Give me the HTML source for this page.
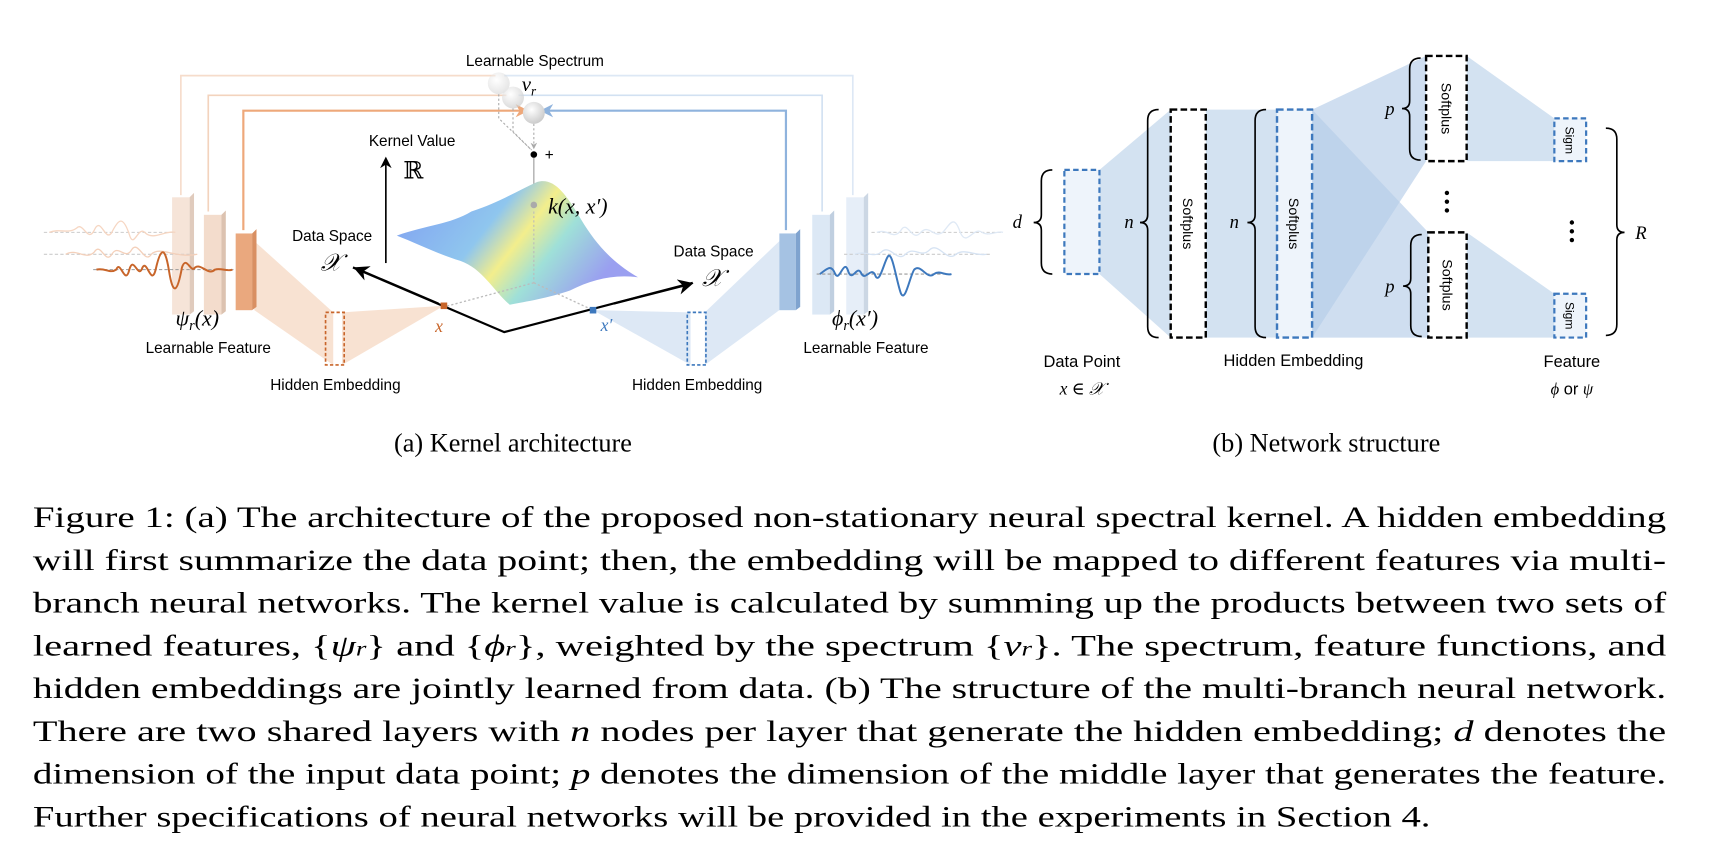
<!DOCTYPE html>
<html><head><meta charset="utf-8">
<style>
html,body{margin:0;padding:0;background:#fff;}
svg{display:block;}
.sans{font-family:"Liberation Sans","DejaVu Sans",sans-serif;}
.serif{font-family:"Liberation Serif","DejaVu Serif",serif;}
</style></head>
<body>
<svg width="1710" height="858" viewBox="0 0 1560 782.8" preserveAspectRatio="none" xmlns="http://www.w3.org/2000/svg">
<defs>
<linearGradient id="surf" x1="0" y1="0" x2="1" y2="0.4">
<stop offset="0" stop-color="#7f9cf2"/><stop offset="0.45" stop-color="#8fc6ee"/><stop offset="0.6" stop-color="#f3ee8c"/><stop offset="0.75" stop-color="#9fe0d8"/><stop offset="1" stop-color="#9a9ff0"/>
</linearGradient>
<radialGradient id="ball" cx="0.4" cy="0.35" r="0.7"><stop offset="0" stop-color="#fff"/><stop offset="1" stop-color="#c8c8c8"/></radialGradient>
<marker id="ah" viewBox="0 0 10 10" refX="8" refY="5" markerWidth="7" markerHeight="7" orient="auto"><path d="M0,0 L10,5 L0,10 L3,5z" fill="#000"/></marker>
<marker id="ahg" viewBox="0 0 10 10" refX="8" refY="5" markerWidth="6" markerHeight="6" orient="auto"><path d="M0,0 L10,5 L0,10 L3,5z" fill="#aaa"/></marker>
<marker id="aho" viewBox="0 0 10 10" refX="8" refY="5" markerWidth="6" markerHeight="6" orient="auto"><path d="M0,0 L10,5 L0,10 L3,5z" fill="#eea87a"/></marker>
<marker id="ahb" viewBox="0 0 10 10" refX="8" refY="5" markerWidth="6" markerHeight="6" orient="auto"><path d="M0,0 L10,5 L0,10 L3,5z" fill="#8fb3dd"/></marker>
</defs>

<g>
<!-- feedback lines -->
<polyline points="165,178 165,69 452,69" fill="none" stroke="#f6dccb" stroke-width="1.5"/>
<polyline points="190,193 190,87 462,87" fill="none" stroke="#f3d3bd" stroke-width="1.5"/>
<polyline points="222,210 222,101 480,101" fill="none" stroke="#eea87a" stroke-width="2" marker-end="url(#aho)"/>
<polyline points="778,178 778,69 460,69" fill="none" stroke="#dde8f5" stroke-width="1.5"/>
<polyline points="750,193 750,87 473,87" fill="none" stroke="#d2e1f2" stroke-width="1.5"/>
<polyline points="717,210 717,101 495,101" fill="none" stroke="#8fb3dd" stroke-width="2" marker-end="url(#ahb)"/>
<circle cx="455" cy="76" r="10" fill="url(#ball)" opacity="0.5"/>
<circle cx="468" cy="89" r="10" fill="url(#ball)" opacity="0.7"/>
<circle cx="487" cy="103" r="10" fill="url(#ball)"/>
<path d="M455,86 L455,108 L484,136 M468,99 L468,120 L485,137 M487,113 L487,135" fill="none" stroke="#aaa" stroke-width="1" stroke-dasharray="2,2" marker-end="url(#ahg)"/>
<circle cx="487" cy="141" r="3" fill="#000"/>
<text x="497" y="146" class="sans" font-size="14">+</text>
<line x1="487" y1="144" x2="487" y2="193" stroke="#aaa" stroke-width="1.2" marker-end="url(#ahg)"/>
<text x="488" y="60" class="sans" font-size="14" text-anchor="middle">Learnable Spectrum</text>
<text x="476" y="83" class="serif" font-size="19" font-style="italic">ν<tspan font-size="12" dy="4">r</tspan></text>
<text x="376" y="133" class="sans" font-size="14" text-anchor="middle">Kernel Value</text>
<line x1="352" y1="240" x2="352" y2="145" stroke="#000" stroke-width="1.5" marker-end="url(#ah)"/>
<text x="368" y="163" class="serif" font-size="22">ℝ</text>
<!-- surface -->
<path d="M362,215 C390,205 410,205 430,193 C455,185 470,175 490,166 C505,162 515,175 530,200 C545,225 560,240 582,253 C560,250 540,255 520,265 C500,272 480,275 465,278 C450,265 440,245 420,238 C400,232 380,222 362,215Z" fill="url(#surf)"/>
<circle cx="487" cy="187" r="3" fill="#aaa"/>
<text x="500" y="195" class="serif" font-size="20" font-style="italic">k(x, x′)</text>
<!-- axes -->
<line x1="487" y1="193" x2="487" y2="258" stroke="#bbb" stroke-width="1" stroke-dasharray="2,2"/>
<line x1="487" y1="258" x2="405" y2="280" stroke="#bbb" stroke-width="1.2" stroke-dasharray="2,2"/>
<line x1="487" y1="258" x2="541" y2="283" stroke="#bbb" stroke-width="1.2" stroke-dasharray="2,2"/>
<polyline points="322,244 460,303 632,258" fill="none" stroke="#000" stroke-width="2"/>
<line x1="400" y1="277" x2="325" y2="245" stroke="#000" stroke-width="2" marker-end="url(#ah)"/>
<line x1="560" y1="277" x2="630" y2="259" stroke="#000" stroke-width="2" marker-end="url(#ah)"/>
<text x="303" y="220" class="sans" font-size="14" text-anchor="middle">Data Space</text>
<text x="302" y="247" class="serif" font-size="22" font-style="italic" text-anchor="middle">𝒳</text>
<text x="651" y="234" class="sans" font-size="14" text-anchor="middle">Data Space</text>
<text x="650" y="261" class="serif" font-size="22" font-style="italic" text-anchor="middle">𝒳</text>
<!-- orange branch -->
<polygon points="232,220 232,283 304,333 304,285" fill="#f7dfcd" opacity="0.9"/>
<polygon points="312,285 405,279 312,333" fill="#f7dfcd" opacity="0.9"/>
<rect x="402" y="276" width="6" height="6" fill="#c8652a"/>
<text x="397" y="303" class="serif" font-size="16" font-style="italic" fill="#c8652a">x</text>
<rect x="297" y="285" width="17" height="48" fill="none" stroke="#c8652a" stroke-width="1.5" stroke-dasharray="3,2"/>
<rect x="157" y="180" width="16" height="107" fill="#f6e4d8"/><polygon points="173,180 177,176 177,284 173,287" fill="#e0cbbd"/>
<rect x="186" y="196" width="16" height="91" fill="#f3dccc"/><polygon points="202,196 206,192 206,284 202,287" fill="#dcc2b0"/>
<rect x="215" y="213" width="15" height="70" fill="#eaa87e"/><polygon points="230,213 234,209 234,280 230,283" fill="#d98f62"/>
<line x1="40" y1="212" x2="160" y2="212" stroke="#ccc" stroke-width="1" stroke-dasharray="3,2"/>
<line x1="40" y1="232" x2="180" y2="232" stroke="#ccc" stroke-width="1" stroke-dasharray="3,2"/>
<line x1="85" y1="246" x2="215" y2="246" stroke="#999" stroke-width="1" stroke-dasharray="3,2"/>
<path d="M45,212 C55,208 62,214 70,208 C76,202 80,222 86,210 C92,196 96,222 102,212 C108,200 112,196 118,214 C122,228 126,206 132,212 C140,220 150,210 160,212" fill="none" stroke="#f6d6c2" stroke-width="1.2"/>
<path d="M60,232 C70,226 78,238 86,230 C92,220 96,242 102,232 C108,222 114,238 120,228 C126,218 132,242 138,232 C146,224 160,236 180,232" fill="none" stroke="#f4d0ba" stroke-width="1.2"/>
<path d="M88,246 C96,244 100,250 106,246 C110,236 114,262 118,246 C122,232 126,256 130,244 C134,236 138,262 142,246 C146,228 150,222 154,246 C158,272 162,266 166,244 C170,232 174,250 178,244 C184,240 190,252 196,246 C202,244 206,248 212,246" fill="none" stroke="#c8652a" stroke-width="1.8"/>
<text x="180" y="297" class="serif" font-size="20" font-style="italic" text-anchor="middle">ψ<tspan font-size="13" dy="4">r</tspan><tspan dy="-4">(x)</tspan></text>
<text x="190" y="322" class="sans" font-size="14" text-anchor="middle">Learnable Feature</text>
<text x="306" y="356" class="sans" font-size="14" text-anchor="middle">Hidden Embedding</text>
<!-- blue branch -->
<polygon points="711,220 711,283 643,333 643,285" fill="#dde8f5"/>
<polygon points="630,285 541,283 630,333" fill="#dde8f5"/>
<rect x="538" y="280" width="6" height="6" fill="#3d78bd"/>
<text x="548" y="302" class="serif" font-size="16" font-style="italic" fill="#3d78bd">x′</text>
<rect x="627" y="285" width="17" height="48" fill="none" stroke="#3d78bd" stroke-width="1.5" stroke-dasharray="3,2"/>
<rect x="711" y="213" width="15" height="70" fill="#a5c2e3"/><polygon points="726,213 730,209 730,280 726,283" fill="#7fa3cf"/>
<rect x="741" y="196" width="16" height="91" fill="#dce8f5"/><polygon points="757,196 761,192 761,284 757,287" fill="#c0cfe0"/>
<rect x="772" y="180" width="16" height="107" fill="#e6eef8"/><polygon points="788,180 792,176 792,284 788,287" fill="#ccd7e4"/>
<line x1="795" y1="212" x2="915" y2="212" stroke="#ccc" stroke-width="1" stroke-dasharray="3,2"/>
<line x1="770" y1="232" x2="905" y2="232" stroke="#ccc" stroke-width="1" stroke-dasharray="3,2"/>
<line x1="745" y1="250" x2="870" y2="250" stroke="#999" stroke-width="1" stroke-dasharray="3,2"/>
<path d="M800,212 C810,208 815,220 822,210 C828,200 832,222 840,212 C848,204 852,218 860,212 C866,206 870,194 876,212 C882,226 888,206 896,212 C902,216 910,210 915,212" fill="none" stroke="#dfe9f5" stroke-width="1.2"/>
<path d="M780,232 C790,228 796,236 804,230 C812,222 818,240 826,232 C834,224 840,236 848,228 C856,220 864,240 872,232 C880,226 890,234 900,232" fill="none" stroke="#d6e3f3" stroke-width="1.2"/>
<path d="M748,250 C754,246 758,240 762,250 C766,258 770,234 774,248 C778,258 782,240 786,250 C790,256 794,244 798,250 C802,262 806,240 810,234 C814,228 818,258 822,268 C826,276 830,252 834,246 C840,240 846,256 852,250 C858,246 862,252 868,250" fill="none" stroke="#3d78bd" stroke-width="1.8"/>
<text x="780" y="297" class="serif" font-size="20" font-style="italic" text-anchor="middle">ϕ<tspan font-size="13" dy="4">r</tspan><tspan dy="-4">(x′)</tspan></text>
<text x="790" y="322" class="sans" font-size="14" text-anchor="middle">Learnable Feature</text>
<text x="636" y="356" class="sans" font-size="14" text-anchor="middle">Hidden Embedding</text>
<text x="468" y="412" class="serif" font-size="24" text-anchor="middle">(a) Kernel architecture</text>
</g>

<g>
<polygon points="1003,155 1068,100 1068,308 1003,250" fill="#d3e2f1"/>
<rect x="1100" y="100" width="65" height="208" fill="#d3e2f1"/>
<polygon points="1197,100 1301,51 1301,147 1197,308" fill="#b6cde8" opacity="0.65"/>
<polygon points="1197,100 1303,212 1303,308 1197,308" fill="#b6cde8" opacity="0.65"/>
<polygon points="1338,51 1418,108 1418,147 1338,147" fill="#d3e2f1"/>
<polygon points="1338,212 1418,268 1418,308 1338,308" fill="#d3e2f1"/>
<rect x="971" y="155" width="32" height="95" fill="#eef4fb" stroke="#3d78bd" stroke-width="2" stroke-dasharray="5,3"/>
<rect x="1068" y="100" width="32" height="208" fill="#fff" stroke="#000" stroke-width="2.2" stroke-dasharray="6,3"/>
<rect x="1165" y="100" width="32" height="208" fill="#eef4fb" stroke="#3d78bd" stroke-width="2.2" stroke-dasharray="6,3"/>
<rect x="1301" y="51" width="37" height="96" fill="#fff" stroke="#000" stroke-width="2.2" stroke-dasharray="6,3"/>
<rect x="1303" y="212" width="35" height="96" fill="#fff" stroke="#000" stroke-width="2.2" stroke-dasharray="6,3"/>
<rect x="1418" y="108" width="29" height="39" fill="#eef4fb" stroke="#3d78bd" stroke-width="2" stroke-dasharray="5,3"/>
<rect x="1418" y="268" width="29" height="40" fill="#eef4fb" stroke="#3d78bd" stroke-width="2" stroke-dasharray="5,3"/>
<g class="sans" font-size="13">
<text transform="translate(1079,204) rotate(90)" text-anchor="middle">Softplus</text>
<text transform="translate(1176,204) rotate(90)" text-anchor="middle">Softplus</text>
<text transform="translate(1315,99) rotate(90)" text-anchor="middle">Softplus</text>
<text transform="translate(1316,260) rotate(90)" text-anchor="middle">Softplus</text>
<text transform="translate(1428,128) rotate(90)" text-anchor="middle" font-size="11">Sigm</text>
<text transform="translate(1428,288) rotate(90)" text-anchor="middle" font-size="11">Sigm</text>
</g>
<g fill="none" stroke="#000" stroke-width="1.5">
<path d="M960,155 Q950,155 950,165 L950,196 Q950,203 943,203 Q950,203 950,210 L950,240 Q950,250 960,250"/>
<path d="M1057,100 Q1047,100 1047,110 L1047,196 Q1047,203 1040,203 Q1047,203 1047,210 L1047,298 Q1047,308 1057,308"/>
<path d="M1155,100 Q1145,100 1145,110 L1145,196 Q1145,203 1138,203 Q1145,203 1145,210 L1145,298 Q1145,308 1155,308"/>
<path d="M1296,53 Q1286,53 1286,63 L1286,92 Q1286,99 1279,99 Q1286,99 1286,106 L1286,136 Q1286,146 1296,146"/>
<path d="M1297,214 Q1287,214 1287,224 L1287,254 Q1287,261 1280,261 Q1287,261 1287,268 L1287,297 Q1287,307 1297,307"/>
<path d="M1465,117 Q1475,117 1475,127 L1475,205 Q1475,212 1482,212 Q1475,212 1475,219 L1475,296 Q1475,306 1465,306"/>
</g>
<g fill="#000"><circle cx="1320" cy="176" r="2"/><circle cx="1320" cy="184" r="2"/><circle cx="1320" cy="192" r="2"/>
<circle cx="1434" cy="203" r="2"/><circle cx="1434" cy="211" r="2"/><circle cx="1434" cy="219" r="2"/></g>
<g class="serif" font-size="17" font-style="italic">
<text x="928" y="208" text-anchor="middle">d</text>
<text x="1030" y="208" text-anchor="middle">n</text>
<text x="1126" y="208" text-anchor="middle">n</text>
<text x="1268" y="105" text-anchor="middle">p</text>
<text x="1268" y="267" text-anchor="middle">p</text>
<text x="1497" y="218" text-anchor="middle">R</text>
</g>
<g class="sans" font-size="15" text-anchor="middle">
<text x="987" y="335">Data Point</text>
<text x="1180" y="334">Hidden Embedding</text>
<text x="1434" y="335">Feature</text>
</g>
<text x="987" y="360" class="serif" font-size="16" font-style="italic" text-anchor="middle">x ∈ 𝒳</text>
<text x="1434" y="360" class="sans" font-size="15" text-anchor="middle"><tspan class="serif" font-style="italic">ϕ</tspan> or <tspan class="serif" font-style="italic">ψ</tspan></text>
<text x="1210" y="412" class="serif" font-size="24" text-anchor="middle">(b) Network structure</text>
</g>

<g class="serif" font-size="27">
<text x="30" y="481" textLength="1490" lengthAdjust="spacingAndGlyphs">Figure 1: (a) The architecture of the proposed non-stationary neural spectral kernel. A hidden embedding</text>
<text x="30" y="520" textLength="1490" lengthAdjust="spacingAndGlyphs">will first summarize the data point; then, the embedding will be mapped to different features via multi-</text>
<text x="30" y="559" textLength="1490" lengthAdjust="spacingAndGlyphs">branch neural networks. The kernel value is calculated by summing up the products between two sets of</text>
<text x="30" y="598" textLength="1490" lengthAdjust="spacingAndGlyphs">learned features, {<tspan font-style="italic">ψ</tspan><tspan font-size="18" font-style="italic">r</tspan>} and {<tspan font-style="italic">ϕ</tspan><tspan font-size="18" font-style="italic">r</tspan>}, weighted by the spectrum {<tspan font-style="italic">ν</tspan><tspan font-size="18" font-style="italic">r</tspan>}. The spectrum, feature functions, and</text>
<text x="30" y="637" textLength="1490" lengthAdjust="spacingAndGlyphs">hidden embeddings are jointly learned from data. (b) The structure of the multi-branch neural network.</text>
<text x="30" y="676" textLength="1490" lengthAdjust="spacingAndGlyphs">There are two shared layers with <tspan font-style="italic">n</tspan> nodes per layer that generate the hidden embedding; <tspan font-style="italic">d</tspan> denotes the</text>
<text x="30" y="715" textLength="1490" lengthAdjust="spacingAndGlyphs">dimension of the input data point; <tspan font-style="italic">p</tspan> denotes the dimension of the middle layer that generates the feature.</text>
<text x="30" y="754" textLength="1275" lengthAdjust="spacingAndGlyphs">Further specifications of neural networks will be provided in the experiments in Section 4.</text>
</g>
</svg>
</body></html>
